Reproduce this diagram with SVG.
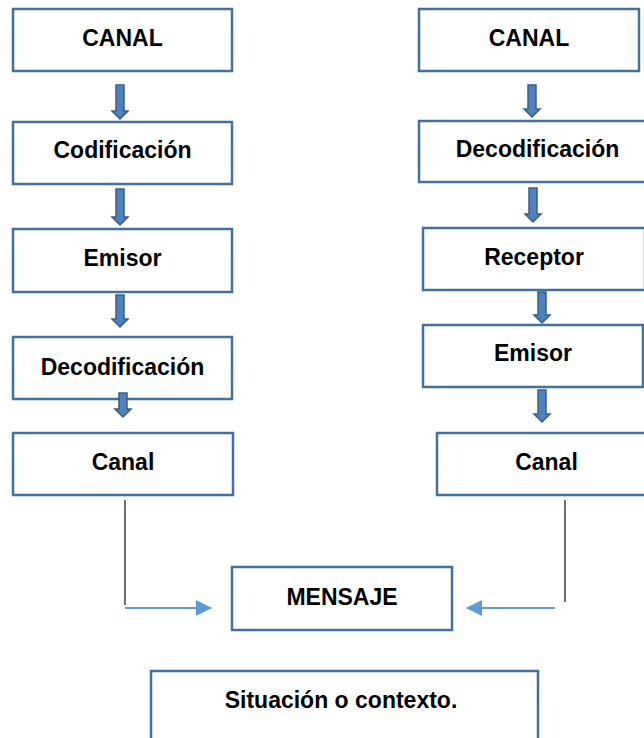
<svg xmlns="http://www.w3.org/2000/svg" width="644" height="738" viewBox="0 0 644 738">
<style>
.box{fill:#fff;stroke:#41719C;stroke-width:2.5}
.t{font-family:"Liberation Sans",Arial,sans-serif;font-weight:bold;font-size:23px;fill:#000;text-anchor:middle}
.blk{fill:#4F81BD;stroke:#385D8A;stroke-width:1.5}
.vl{stroke:#404040;stroke-width:1.5;fill:none}
.hl{stroke:#5B9BD5;stroke-width:2;fill:none}
</style>
<defs>
<marker id="ah2" markerWidth="16" markerHeight="16" refX="15" refY="8" orient="auto" markerUnits="userSpaceOnUse">
<path d="M0,0 L16,8 L0,16 Z" fill="#5B9BD5"/>
</marker>
</defs>
<rect width="644" height="738" fill="#fff"/>
<g id="l-canal"><rect class="box" x="13" y="9" width="219" height="62"/><text class="t" x="122.5" y="46">CANAL</text></g>
<g id="l-codificacion"><rect class="box" x="13" y="122" width="219" height="62"/><text class="t" x="122.5" y="158">Codificación</text></g>
<g id="l-emisor"><rect class="box" x="13" y="229" width="219" height="63"/><text class="t" x="122.5" y="266">Emisor</text></g>
<g id="l-decodificacion"><rect class="box" x="13" y="337" width="219" height="62"/><text class="t" x="122.5" y="375">Decodificación</text></g>
<g id="l-canal2"><rect class="box" x="13" y="433" width="220" height="62"/><text class="t" x="123" y="470">Canal</text></g>
<g id="r-canal"><rect class="box" x="419" y="9" width="220" height="62"/><text class="t" x="529" y="46">CANAL</text></g>
<g id="r-decodificacion"><rect class="box" x="419" y="121" width="237" height="61"/><text class="t" x="537.5" y="157">Decodificación</text></g>
<g id="r-receptor"><rect class="box" x="423" y="228" width="222" height="62"/><text class="t" x="534" y="265">Receptor</text></g>
<g id="r-emisor"><rect class="box" x="423" y="325" width="220" height="62"/><text class="t" x="533" y="361">Emisor</text></g>
<g id="r-canal2"><rect class="box" x="437" y="433" width="219" height="62"/><text class="t" x="546.5" y="470">Canal</text></g>
<g id="mensaje"><rect class="box" x="232" y="567" width="220" height="63"/><text class="t" x="342" y="605">MENSAJE</text></g>
<g id="situacion"><rect class="box" x="151" y="671" width="387" height="80"/><text class="t" x="341" y="708">Situación o contexto.</text></g>
<g id="connectors">
<path class="blk" d="M116 85 H124 V111 H128 L120 119 L112 111 H116 Z"/>
<path class="blk" d="M116 189 H124 V217 H128 L120 225 L112 217 H116 Z"/>
<path class="blk" d="M116 295 H124 V319 H128 L120 327 L112 319 H116 Z"/>
<path class="blk" d="M119 393 H127 V409 H131 L123 417 L115 409 H119 Z"/>
<path class="blk" d="M528 85 H536 V109 H540 L532 117 L524 109 H528 Z"/>
<path class="blk" d="M529 188 H537 V214 H541 L533 222 L525 214 H529 Z"/>
<path class="blk" d="M538 292 H546 V315 H550 L542 323 L534 315 H538 Z"/>
<path class="blk" d="M538 390 H546 V414 H550 L542 422 L534 414 H538 Z"/>
<line class="vl" x1="125" y1="500" x2="125" y2="605"/>
<line class="hl" x1="125" y1="608" x2="211" y2="608" marker-end="url(#ah2)"/>
<line class="vl" x1="565" y1="500" x2="565" y2="602"/>
<line class="hl" x1="555" y1="608" x2="467" y2="608" marker-end="url(#ah2)"/>
</g>
</svg>
